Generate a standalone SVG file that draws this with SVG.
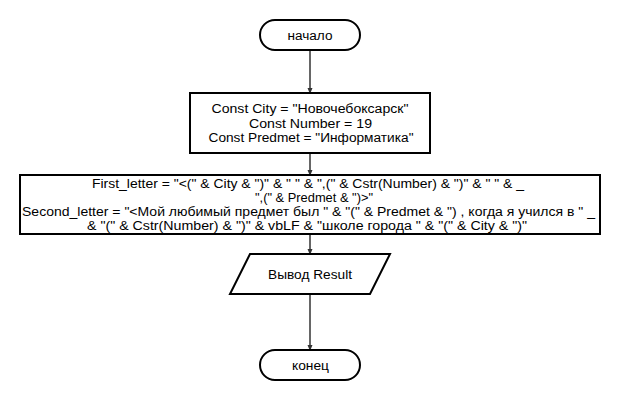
<svg xmlns="http://www.w3.org/2000/svg" width="620" height="400" viewBox="0 0 620 400">
<defs>
<style>
.s{fill:#fff;stroke:#000;stroke-width:2}
.t{font-family:"Liberation Sans",Arial,sans-serif;font-size:12.5px;fill:#000;text-anchor:middle}
.c{stroke:#333;stroke-width:1.5;fill:none;marker-end:url(#a)}
</style>
<marker id="a" viewBox="0 0 6 6" refX="5" refY="3" markerWidth="6" markerHeight="6" markerUnits="userSpaceOnUse" orient="auto">
<path d="M0,0.5L6,3L0,5.5z" fill="#333"/>
</marker>
</defs>
<rect width="620" height="400" fill="#fff"/>
<g id="connectors">
<line class="c" x1="310" y1="50" x2="310" y2="93"/>
<line class="c" x1="310" y1="153" x2="310" y2="175"/>
<line class="c" x1="310" y1="234" x2="310" y2="254"/>
<line class="c" x1="310" y1="294" x2="310" y2="350"/>
</g>
<g id="start">
<rect class="s" x="260" y="20" width="100" height="30" rx="15" ry="15"/>
<text class="t" x="310" y="39.5" textLength="45" lengthAdjust="spacingAndGlyphs">начало</text>
</g>
<g id="consts">
<rect class="s" x="190" y="93" width="240" height="60"/>
<text class="t" x="310" y="113" textLength="197" lengthAdjust="spacingAndGlyphs">Const City = "Новочебоксарск"</text>
<text class="t" x="310.5" y="127.5" textLength="123" lengthAdjust="spacingAndGlyphs">Const Number = 19</text>
<text class="t" x="311" y="142" textLength="205" lengthAdjust="spacingAndGlyphs">Const Predmet = "Информатика"</text>
</g>
<g id="letters">
<rect class="s" x="20" y="175" width="580" height="59"/>
<text class="t" x="308" y="187.5" textLength="432" lengthAdjust="spacingAndGlyphs">First_letter = "&lt;(" &amp; City &amp; ")" &amp; " " &amp; ",(" &amp; Cstr(Number) &amp; ")" &amp; " " &amp; _</text>
<text class="t" x="314" y="201.5" textLength="118" lengthAdjust="spacingAndGlyphs">",(" &amp; Predmet &amp; ")&gt;"</text>
<text class="t" x="308.5" y="215.5" textLength="573" lengthAdjust="spacingAndGlyphs">Second_letter = "&lt;Мой любимый предмет был " &amp; "(" &amp; Predmet &amp; ") , когда я учился в " _</text>
<text class="t" x="307" y="229.5" textLength="440" lengthAdjust="spacingAndGlyphs">&amp; "(" &amp; Cstr(Number) &amp; ")" &amp; vbLF &amp; "школе города " &amp; "(" &amp; City &amp; ")"</text>
</g>
<g id="output">
<polygon class="s" points="250,254 390,254 370,294 230,294"/>
<text class="t" x="310" y="278.5" textLength="84" lengthAdjust="spacingAndGlyphs">Вывод Result</text>
</g>
<g id="end">
<rect class="s" x="260" y="350" width="100" height="30" rx="15" ry="15"/>
<text class="t" x="310.5" y="369.5" textLength="37" lengthAdjust="spacingAndGlyphs">конец</text>
</g>
</svg>
